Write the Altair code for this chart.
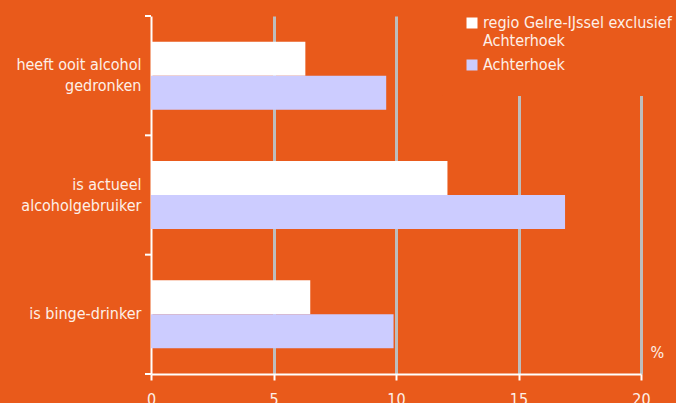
import altair as alt
import pandas as pd

categories = ["heeft ooit alcohol\ngedronken", "is actueel\nalcoholgebruiker", "is binge-drinker"]
series = ["regio Gelre-IJssel exclusief\nAchterhoek", "Achterhoek"]
values_regio = [6.3, 12.1, 6.5]
values_achterhoek = [9.6, 16.9, 9.9]
x_ticks = [0, 5, 10, 15, 20]
colors = ["#ffffff", "#ccccff"]

BG = "#E95A1B"
TXT = "#fdf0e8"
FONT = "DejaVu Sans Condensed, Liberation Sans Narrow, sans-serif"
FS = 16

rows = []
for c, a, b in zip(categories, values_regio, values_achterhoek):
    rows.append({"cat": c, "series": series[0], "value": a})
    rows.append({"cat": c, "series": series[1], "value": b})
df = pd.DataFrame(rows)
cat_df = pd.DataFrame({"cat": categories})

y_axis = alt.Axis(
    title=None, ticks=False, domainColor="white", domainWidth=2,
    labelColor=TXT, labelFontSize=FS, labelLineHeight=21, labelPadding=10,
    labelOffset=alt.condition("indexof(datum.value, '\\n') >= 0", alt.value(-10.5), alt.value(0)),
    labelLimit=250, labelExpr="split(datum.label, '\\n')", grid=False,
)
y_scale = alt.Scale(paddingInner=0, paddingOuter=0)

bars = alt.Chart(df).mark_bar().encode(
    x=alt.X("value:Q", scale=alt.Scale(domain=[0, 20], nice=False),
            axis=alt.Axis(
                values=x_ticks, grid=True, gridColor="#bdbdbd", gridWidth=3,
                gridOpacity=alt.condition("datum.value === 0", alt.value(0), alt.value(1)),
                domainColor="white", domainWidth=2, tickColor="white", tickWidth=2,
                tickSize=6, labelColor=TXT, labelFontSize=FS, labelPadding=11,
                labelFlush=False,
                title="%", titleX=499, titleY=-22, titleAlign="left",
                titleBaseline="middle", titleFontWeight="normal", titleColor=TXT,
                titleFontSize=FS, titleAngle=0)),
    y=alt.Y("cat:N", sort=categories, scale=y_scale, axis=y_axis),
    yOffset=alt.YOffset("series:N", sort=series,
                        scale=alt.Scale(paddingOuter=0.755, paddingInner=0)),
    color=alt.Color("series:N", sort=series,
                    scale=alt.Scale(domain=series, range=colors),
                    legend=alt.Legend(
                        orient="none", legendX=291, legendY=-23, title=None,
                        fillColor=BG, padding=22, strokeColor=BG,
                        labelExpr="split(datum.label, '\\n')",
                        labelColor=TXT, labelFontSize=FS, labelLimit=400,
                        labelBaseline="middle",
                        symbolType="square", symbolSize=121, symbolStrokeWidth=0,
                        labelOffset=3, rowPadding=8)),
)

ticks_top = alt.Chart(cat_df).mark_rule(color="white", strokeWidth=2).encode(
    x=alt.value(-6), x2=alt.value(0),
    y=alt.Y("cat:N", sort=categories, scale=y_scale, axis=y_axis, bandPosition=0),
)
ticks_bottom = alt.Chart(cat_df).transform_filter(
    alt.datum.cat == categories[-1]
).mark_rule(color="white", strokeWidth=2).encode(
    x=alt.value(-6), x2=alt.value(0),
    y=alt.Y("cat:N", sort=categories, scale=y_scale, axis=y_axis, bandPosition=1),
)

chart = alt.layer(bars, ticks_top, ticks_bottom).properties(
    width=490, height=358,
    padding={"left": 151, "top": 16, "right": 35, "bottom": 29},
    autosize=alt.AutoSizeParams(type="none"),
).configure(background=BG, font=FONT).configure_view(stroke=None).configure_axis(
    labelFont=FONT, titleFont=FONT
).configure_legend(labelFont=FONT)

chart.save("out.html", embed_options={"renderer": "svg", "actions": False})
